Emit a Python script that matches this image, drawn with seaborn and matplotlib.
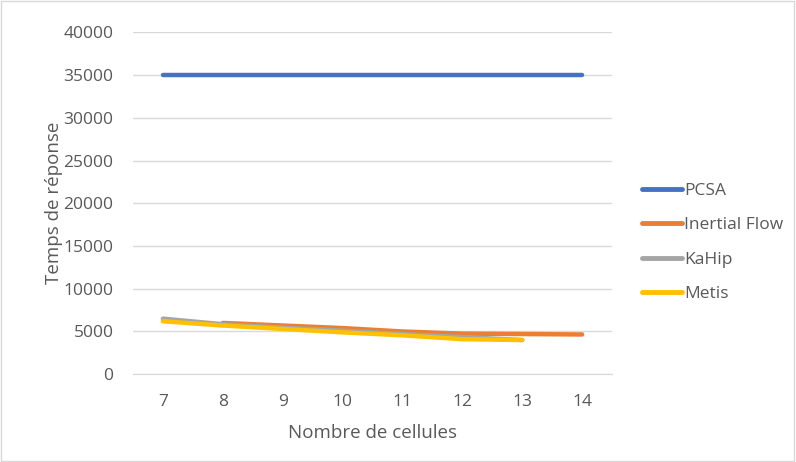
import matplotlib
matplotlib.use('Agg')
import matplotlib.pyplot as plt
import pandas as pd
import seaborn as sns

# Data
cellules = [7, 8, 9, 10, 11, 12, 13, 14]
pcsa = [35000, 35000, 35000, 35000, 35000, 35000, 35000, 35000]
inertial_cells = [8, 9, 10, 11, 12, 13, 14]
inertial = [6000, 5700, 5400, 5000, 4750, 4700, 4650]
kahip_cells = [7, 8, 9, 10, 11, 12, 13]
kahip = [6500, 5850, 5450, 5100, 4700, 4350, 4000]
metis_cells = [7, 8, 9, 10, 11, 12, 13]
metis = [6200, 5700, 5300, 4900, 4550, 4100, 4000]

series = {
    'PCSA': (cellules, pcsa),
    'Inertial Flow': (inertial_cells, inertial),
    'KaHip': (kahip_cells, kahip),
    'Metis': (metis_cells, metis),
}
colors = {'PCSA': '#4472C4', 'Inertial Flow': '#ED7D31', 'KaHip': '#A5A5A5', 'Metis': '#FFC000'}

frames = []
for name, (xs, ys) in series.items():
    frames.append(pd.DataFrame({'Nombre de cellules': xs, 'Temps de réponse': ys, 'serie': name}))
df = pd.concat(frames, ignore_index=True)

sns.set_style('white')
plt.rcParams['font.family'] = ['Open Sans', 'DejaVu Sans']

fig = plt.figure(figsize=(7.96, 4.62), dpi=100)
ax = fig.add_axes([0.167, 0.19, 0.602, 0.74])

sns.lineplot(data=df, x='Nombre de cellules', y='Temps de réponse', hue='serie',
             palette=colors, linewidth=3.2, ax=ax, solid_capstyle='round')

ax.set_xlim(6.5, 14.5)
ax.set_ylim(0, 40000)
ax.set_xticks(cellules)
ax.set_yticks(range(0, 40001, 5000))
ax.grid(axis='y', color='#D9D9D9', linewidth=1)
ax.set_axisbelow(True)
for s in ['top', 'right', 'left']:
    ax.spines[s].set_visible(False)
ax.spines['bottom'].set_color('#D9D9D9')
ax.tick_params(axis='both', length=0, labelsize=12.5, colors='#595959')
ax.tick_params(axis='x', pad=14)
ax.tick_params(axis='y', pad=14)
ax.set_xlabel('Nombre de cellules', fontsize=13.5, color='#595959', labelpad=10)
ax.set_ylabel('Temps de réponse', fontsize=13.5, color='#595959', labelpad=0)

leg = ax.legend(loc='center left', bbox_to_anchor=(1.03, 0.385), frameon=False,
                fontsize=12.5, handlelength=2.3, handletextpad=0.1, labelspacing=1.05)
for t in leg.get_texts():
    t.set_color('#595959')
for line in leg.get_lines():
    line.set_linewidth(3.5)

fig.patches.append(plt.Rectangle((0.001, 0.002), 0.997, 0.995, transform=fig.transFigure,
                                 fill=False, edgecolor='#D9D9D9', linewidth=1))

fig.savefig('out.png', dpi=100)
